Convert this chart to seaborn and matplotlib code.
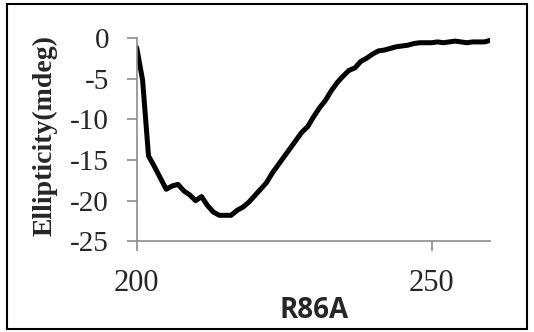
import seaborn as sns
import matplotlib.pyplot as plt
import pandas as pd
from matplotlib.patches import Rectangle

# longitud de onda (nm) y elipticidad (mdeg)
wavelength = list(range(200, 261))
ellipticity = [-1.2, -5.2, -14.5, -15.8, -17.2, -18.6, -18.2, -18.0, -18.8, -19.3,
               -20.0, -19.5, -20.6, -21.4, -21.8, -21.8, -21.8, -21.2, -20.8, -20.2,
               -19.4, -18.6, -17.8, -16.6, -15.6, -14.6, -13.6, -12.6, -11.6, -10.9,
               -9.7, -8.6, -7.7, -6.5, -5.5, -4.7, -4.0, -3.7, -2.9, -2.5,
               -2.0, -1.6, -1.5, -1.3, -1.1, -1.0, -0.9, -0.7, -0.6, -0.6,
               -0.6, -0.5, -0.6, -0.5, -0.4, -0.5, -0.6, -0.5, -0.5, -0.5, -0.3]
y_ticks = [0, -5, -10, -15, -20, -25]
x_ticks = [200, 250]

df = pd.DataFrame({'nm': wavelength, 'mdeg': ellipticity})

sns.set_style('white')
plt.rcParams['font.family'] = ['Liberation Serif', 'DejaVu Serif']

fig = plt.figure(figsize=(5.34, 3.32), dpi=100)
ax = fig.add_axes([0.256, 0.273, 0.6625, 0.613])

sns.lineplot(data=df, x='nm', y='mdeg', color='black', linewidth=3.6, ax=ax)

ax.set_xlim(200, 260)
ax.set_ylim(-25, 0)
ax.set_xticks(x_ticks)
ax.set_yticks(y_ticks)
ax.set_yticklabels([str(v) for v in y_ticks])

for s in ['top', 'right']:
    ax.spines[s].set_visible(False)
for s in ['left', 'bottom']:
    ax.spines[s].set_color('#8c8c8c')
    ax.spines[s].set_linewidth(1.2)

ax.tick_params(axis='both', direction='out', color='#8c8c8c', width=1.2,
               length=7, left=True, bottom=True)
ax.tick_params(axis='x', pad=13, labelsize=22)
ax.tick_params(axis='y', pad=13, labelsize=21)

ax.set_ylabel('Ellipticity(mdeg)', fontsize=20, fontweight='bold',
              family=['Liberation Serif'])
ax.yaxis.set_label_coords(-0.259, 0.522)
ax.yaxis.label.set_va('center')
ax.set_xlabel('R86A', fontsize=20, fontweight='bold',
              family=['Open Sans', 'DejaVu Sans'])
ax.xaxis.set_label_coords(0.5, -0.34)
ax.xaxis.label.set_va('center')

# marco negro alrededor de la figura
fig.patches.append(Rectangle((0.013, 0.008), 0.973, 0.98, transform=fig.transFigure,
                             fill=False, edgecolor='black', linewidth=1.5))

fig.savefig('out.png', dpi=100)
